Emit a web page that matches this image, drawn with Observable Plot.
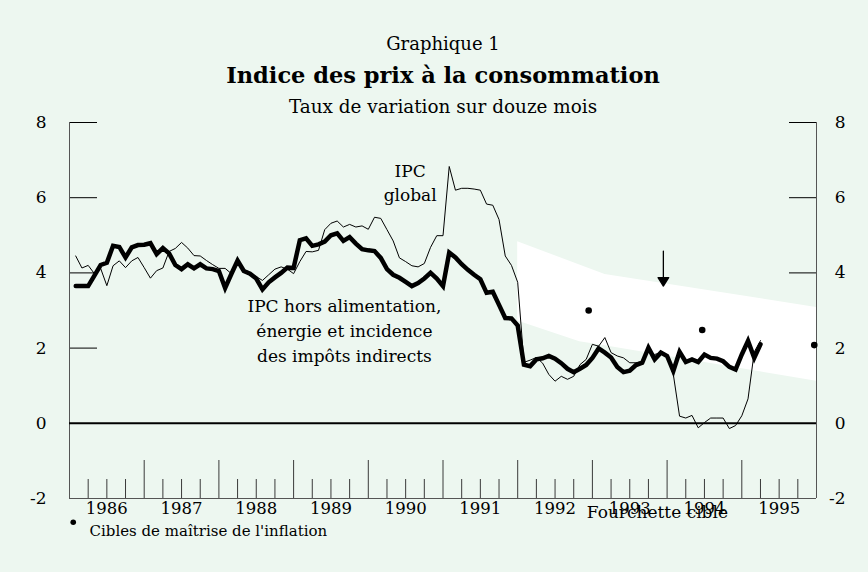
<!DOCTYPE html>
<html>
<head>
<meta charset="utf-8">
<script src="https://cdn.jsdelivr.net/npm/d3@7"></script>
<script src="https://cdn.jsdelivr.net/npm/@observablehq/plot@0.6"></script>
<style>
  html, body { margin: 0; padding: 0; background: #edf7f0; }
</style>
</head>
<body>
<div id="chart"></div>
<script>
// ---- Data (12-month rate of change, %) ----
// monthly observations, first one = February 1986
const firstMonth = { year: 1986, month: 1 }; // month index from January (0-based)
const coreValues = [
  3.65,3.65,3.65,3.93,4.21,4.27,4.72,4.69,4.41,4.68,4.74,4.75,
  4.79,4.5,4.66,4.52,4.21,4.1,4.23,4.12,4.23,4.12,4.1,4.05,
  3.6,3.97,4.33,4.05,3.98,3.85,3.56,3.75,3.88,4.0,4.14,4.13,
  4.87,4.92,4.72,4.76,4.83,5.0,5.05,4.85,4.95,4.78,4.63,4.6,
  4.58,4.4,4.1,3.95,3.87,3.76,3.65,3.73,3.85,4.0,3.85,3.65,
  4.54,4.41,4.23,4.08,3.95,3.83,3.47,3.5,3.15,2.8,2.79,2.6,
  1.56,1.52,1.7,1.73,1.79,1.72,1.6,1.45,1.36,1.45,1.55,1.74,
  1.99,1.88,1.75,1.5,1.36,1.4,1.55,1.61,2.01,1.7,1.88,1.79,
  1.39,1.9,1.63,1.7,1.63,1.83,1.74,1.72,1.65,1.5,1.43,1.83,
  2.19,1.74,2.1
];
const totalValues = [
  4.45,4.13,4.2,3.98,4.12,3.66,4.19,4.32,4.14,4.32,4.41,4.14,
  3.86,4.06,4.13,4.57,4.65,4.81,4.66,4.46,4.45,4.33,4.22,4.12,
  4.12,3.98,4.3,4.1,4.0,3.9,3.8,3.95,4.1,4.16,4.1,3.98,
  4.3,4.57,4.56,4.6,5.15,5.32,5.38,5.22,5.29,5.22,5.25,5.16,
  5.48,5.45,5.15,4.85,4.4,4.3,4.19,4.16,4.25,4.68,4.99,4.99,
  6.83,6.2,6.25,6.25,6.23,6.2,5.83,5.8,5.42,4.45,4.2,3.75,
  1.62,1.68,1.75,1.6,1.3,1.12,1.25,1.17,1.25,1.56,1.7,2.1,
  2.05,2.28,1.88,1.79,1.74,1.61,1.61,1.65,1.92,1.83,1.88,1.74,
  1.3,0.19,0.14,0.21,-0.12,0.02,0.14,0.14,0.14,-0.14,-0.06,0.2,
  0.65,1.9,2.2
];

// target band ("Fourchette cible")
const bandYears = [1992.0, 1992.83, 1993.17, 1996.0];
const bandHigh  = [4.83, 4.21, 3.96, 3.08];
const bandLow   = [2.72, 2.17, 2.06, 1.12];

// inflation-control targets (dots)
const targetYears  = [1992.95, 1994.47, 1995.97];
const targetValues = [3.0, 2.48, 2.08];

// arrow pointing at the band
const arrowYear = [1993.95];
const arrowTip  = [3.65];

// axes
const xDomain = [1986, 1996];
const yDomain = [-2, 8];
const yTicks = [-2, 0, 2, 4, 6, 8];
const yTickMarks = [2, 4, 6, 8];
const yearLabels = [1986, 1987, 1988, 1989, 1990, 1991, 1992, 1993, 1994, 1995];
const yearTicks = [1987, 1988, 1989, 1990, 1991, 1992, 1993, 1994, 1995];
const quarterOffsets = [0.25, 0.5, 0.75];

// annotations
const annotations = [
  { t: 1990.56, v: 5.9,  text: "IPC\nglobal" },
  { t: 1989.68, v: 1.64, text: "IPC hors alimentation,\nénergie et incidence\ndes impôts indirects" },
  { t: 1993.87, v: -2.51, text: "Fourchette cible" }
];
// legend marker position
const legendDot = [{ t: 1986.05, v: -2.63 }];

// ---- Tables built from arrays ----
const monthTime = i => firstMonth.year + (firstMonth.month + i) / 12;
const core  = coreValues.map((v, i) => ({ t: monthTime(i), v }));
const total = totalValues.map((v, i) => ({ t: monthTime(i), v }));
const band = bandYears.map((t, i) => ({ t, lo: bandLow[i], hi: bandHigh[i] }));
const targets = targetYears.map((t, i) => ({ t, v: targetValues[i] }));
const arrowData = arrowYear.map((t, i) => ({ t, v: arrowTip[i] }));
const quarterTicks = yearLabels.flatMap(y => quarterOffsets.map(q => y + q));
const yearMids = yearLabels.map(y => y + 0.5);

const arrowShape = {
  draw(context, l) {
    context.moveTo(0, 0);
    context.lineTo(0, -l + 7);
    context.moveTo(0, -l);
    context.lineTo(-5.3, -l + 8.5);
    context.lineTo(5.3, -l + 8.5);
    context.closePath();
  }
};

const font = "DejaVu Serif";
const tickColor = "#3a3a3a";

const chart = Plot.plot({
  width: 868,
  height: 572,
  marginLeft: 69,
  marginRight: 52,
  marginTop: 122,
  marginBottom: 74,
  x: { domain: xDomain, label: null },
  y: { domain: yDomain, label: null },
  style: { background: "#edf7f0", fontFamily: font, color: "#000", overflow: "visible" },
  marks: [
    // inward ticks
    Plot.axisX(quarterTicks, { anchor: "bottom", tickSize: -19, tickFormat: () => "", stroke: tickColor, label: null }),
    Plot.axisX(yearTicks, { anchor: "bottom", tickSize: -38, tickFormat: () => "", stroke: tickColor, label: null }),
    Plot.axisY(yTickMarks, { anchor: "left", tickSize: -28, tickFormat: () => "", stroke: "#000", label: null }),
    Plot.axisY(yTickMarks, { anchor: "right", tickSize: -28, tickFormat: () => "", stroke: "#000", label: null }),
    // target band
    Plot.areaY(band, { x: "t", y1: "lo", y2: "hi", fill: "white" }),
    // frame lines
    Plot.ruleX(xDomain, { stroke: "#555" }),
    Plot.ruleY([yDomain[0]], { stroke: "#555" }),
    Plot.ruleY([0], { stroke: "#000", strokeWidth: 2 }),
    // series
    Plot.line(total, { x: "t", y: "v", stroke: "#000", strokeWidth: 1 }),
    Plot.line(core, { x: "t", y: "v", stroke: "#000", strokeWidth: 4.5, strokeLinejoin: "miter", strokeMiterlimit: 3 }),
    // targets
    Plot.dot(targets, { x: "t", y: "v", r: 3.3, fill: "#000" }),
    // arrow
    Plot.vector(arrowData, { x: "t", y: "v", length: 35, rotate: 180, anchor: "end", shape: arrowShape, stroke: "#000", fill: "#000", strokeWidth: 1.3 }),
    // annotations
    Plot.text(annotations, { x: "t", y: "v", text: "text", fontSize: 17, lineAnchor: "bottom", lineHeight: 1.45, textAnchor: "middle", fill: "#000" }),
    // axis labels
    Plot.axisY(yTicks, { anchor: "left", tickSize: 0, tickPadding: 23, fontSize: 17, tickFormat: d => String(d), label: null }),
    Plot.axisY(yTicks, { anchor: "right", tickSize: 0, tickPadding: 29, textAnchor: "end", fontSize: 17, tickFormat: d => String(d), label: null }),
    Plot.axisX(yearMids, { anchor: "bottom", tickSize: 0, tickPadding: 4, fontSize: 16.5, tickFormat: d => String(Math.floor(d)), label: null }),
    // titles
    Plot.text(["Graphique 1"], { frameAnchor: "top", dy: -73, lineAnchor: "bottom", fontSize: 18 }),
    Plot.text(["Indice des prix à la consommation"], { frameAnchor: "top", dy: -40, lineAnchor: "bottom", fontSize: 22.5, fontWeight: "bold" }),
    Plot.text(["Taux de variation sur douze mois"], { frameAnchor: "top", dy: -10, lineAnchor: "bottom", fontSize: 18.4 }),
    // legend
    Plot.dot(legendDot, { x: "t", y: "v", r: 2.8, fill: "#000" }),
    Plot.text(["Cibles de maîtrise de l'inflation"], { frameAnchor: "bottom-left", dx: 20, dy: 37, lineAnchor: "bottom", textAnchor: "start", fontSize: 15 })
  ]
});

document.getElementById("chart").appendChild(chart);
</script>
</body>
</html>
